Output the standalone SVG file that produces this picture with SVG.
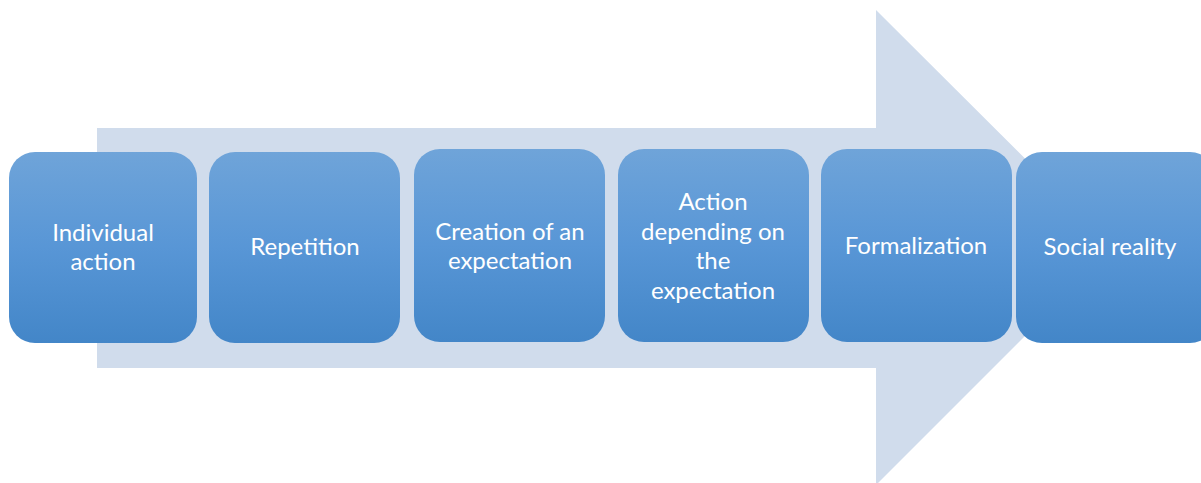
<svg xmlns="http://www.w3.org/2000/svg" width="1201" height="483" viewBox="0 0 1201 483">
  <defs>
    <linearGradient id="boxFill" x1="0" y1="0" x2="0" y2="1">
      <stop offset="0" stop-color="#6fa4d9"/>
      <stop offset="0.5" stop-color="#5896d6"/>
      <stop offset="1" stop-color="#4386c8"/>
    </linearGradient>
    <style>
      .step { fill: url(#boxFill); }
      .label { font-family: Lato, "Liberation Sans", sans-serif; font-size: 24px; fill: #ffffff; text-anchor: middle; dominant-baseline: central; }
    </style>
  </defs>
  <rect width="1201" height="483" fill="#ffffff"/>

  <!-- backdrop arrow -->
  <g id="connectors">
    <polygon points="97,128 876,128 876,10 1114,247 876,485 876,368 97,368" fill="#d0dcec"/>
  </g>

  <g id="node-individual-action">
    <rect class="step" x="9" y="152" width="188" height="191" rx="26"/>
    <text class="label" x="103" y="231">Individual</text>
    <text class="label" x="103" y="260">action</text>
  </g>
  <g id="node-repetition">
    <rect class="step" x="209" y="152" width="191" height="191" rx="26"/>
    <text class="label" x="305" y="245">Repetition</text>
  </g>
  <g id="node-creation">
    <rect class="step" x="414" y="149" width="191" height="193" rx="26"/>
    <text class="label" x="510" y="230">Creation of an</text>
    <text class="label" x="510" y="259">expectation</text>
  </g>
  <g id="node-action-depending">
    <rect class="step" x="618" y="149" width="191" height="193" rx="26"/>
    <text class="label" x="713" y="200">Action</text>
    <text class="label" x="713" y="230">depending on</text>
    <text class="label" x="713" y="259">the</text>
    <text class="label" x="713" y="289">expectation</text>
  </g>
  <g id="node-formalization">
    <rect class="step" x="821" y="149" width="191" height="193" rx="26"/>
    <text class="label" x="916" y="244">Formalization</text>
  </g>
  <g id="node-social-reality">
    <rect class="step" x="1016" y="152" width="200" height="191" rx="26"/>
    <text class="label" x="1110" y="245">Social reality</text>
  </g>
</svg>
